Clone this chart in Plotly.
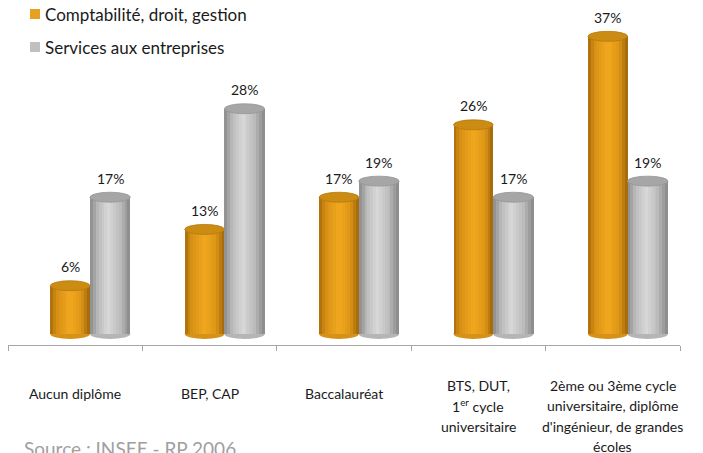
import plotly.graph_objects as go

# ---------------- data ----------------
categories = [
    "Aucun diplôme",
    "BEP, CAP",
    "Baccalauréat",
    "BTS, DUT,<br>1<sup>er</sup> cycle<br>universitaire",
    "2ème ou 3ème cycle<br>universitaire, diplôme<br>d'ingénieur, de grandes<br>écoles",
]
series_names = ["Comptabilité, droit, gestion", "Services aux entreprises"]
compta = [6, 13, 17, 26, 37]
services = [17, 28, 19, 17, 19]
value_labels_compta = ["6%", "13%", "17%", "26%", "37%"]
value_labels_services = ["17%", "28%", "19%", "17%", "19%"]
source_text = "Source : INSEE - RP 2006"

# ---------------- layout constants ----------------
OFF = 8  # page body margin offset
W, H = 703 - OFF, 453 - OFF
ML, MR, MT, MB = 0, 23, 13 - OFF, H - (345 - OFF)
PW, PH = W - ML - MR, H - MT - MB
FONT = "Lato"


def px_x(px):  # px in page coordinates
    return (px - OFF - ML) / PW


def px_y(py):
    return (H - MB - (py - OFF)) / PH


def hex2rgb(h):
    h = h.lstrip("#")
    return tuple(int(h[i:i + 2], 16) for i in (0, 2, 4))


def interp(stops, t):
    for (t0, c0), (t1, c1) in zip(stops, stops[1:]):
        if t0 <= t <= t1:
            a = (t - t0) / (t1 - t0) if t1 > t0 else 0
            r0, r1 = hex2rgb(c0), hex2rgb(c1)
            c = [round(r0[k] + (r1[k] - r0[k]) * a) for k in range(3)]
            return "rgb(%d,%d,%d)" % tuple(c)
    return stops[-1][1]


orange_stops = [(0, "#A86A0A"), (0.15, "#D48F14"), (0.5, "#F2A81E"), (0.78, "#DE9616"), (1.0, "#9C640A")]
gray_stops = [(0, "#8A8A8A"), (0.2, "#BBBBBB"), (0.45, "#D8D8D8"), (0.75, "#BBBBBB"), (1.0, "#868686")]

series = [
    dict(vals=compta, labels=value_labels_compta, x0=-0.185, x1=0.11, stops=orange_stops,
         top="#CC8C14", topline="#B47A0E", base="#D69218", legend="#E8A020"),
    dict(vals=services, labels=value_labels_services, x0=0.11, x1=0.41, stops=gray_stops,
         top="#A6A6A6", topline="#969696", base="#B5B5B5", legend="#C0C0C0"),
]

xs = list(range(len(categories)))
fig = go.Figure()
shapes = []
annotations = []
N = 14
half_h = 0.62  # ellipse half height in data units

for s in series:
    dw = (s["x1"] - s["x0"]) / N
    for i in range(N):
        t = (i + 0.5) / N
        fig.add_trace(go.Bar(
            x=xs, y=s["vals"], base=0, width=dw * 1.05, offset=s["x0"] + i * dw,
            marker=dict(color=interp(s["stops"], t), line=dict(width=0)),
            showlegend=False, hoverinfo="skip",
        ))
    for xi, v, lab in zip(xs, s["vals"], s["labels"]):
        shapes.append(dict(type="circle", xref="x", yref="y",
                           x0=xi + s["x0"], x1=xi + s["x1"], y0=v - half_h, y1=v + half_h,
                           fillcolor=s["top"], line=dict(color=s["topline"], width=0.8), layer="above"))
        shapes.append(dict(type="circle", xref="x", yref="y",
                           x0=xi + s["x0"], x1=xi + s["x1"], y0=-half_h, y1=half_h,
                           fillcolor=s["base"], line=dict(width=0), layer="below"))
        annotations.append(dict(x=xi + (s["x0"] + s["x1"]) / 2, y=v, xref="x", yref="y",
                                text=lab, showarrow=False, yshift=19,
                                font=dict(family=FONT, size=14, color="#1a1a1a")))

# category labels, one annotation per line
line_h = 20.5
for xi, cat in enumerate(categories):
    lines = cat.split("<br>")
    top = 393 if len(lines) == 1 else 385
    for j, ln in enumerate(lines):
        annotations.append(dict(x=xi, y=px_y(top + j * line_h), xref="x", yref="paper",
                                text=ln, showarrow=False, xanchor="center", yanchor="middle",
                                font=dict(family=FONT, size=14, color="#1a1a1a")))

# legend
for k, (name, s) in enumerate(zip(series_names, series)):
    cy = 14 + k * 33
    shapes.append(dict(type="rect", xref="paper", yref="paper",
                       x0=px_x(30), x1=px_x(40), y0=px_y(cy + 5), y1=px_y(cy - 5),
                       fillcolor=s["legend"], line=dict(width=0)))
    annotations.append(dict(x=px_x(43), y=px_y(cy), xref="paper", yref="paper",
                            text=name, showarrow=False, xanchor="left", yanchor="middle",
                            font=dict(family=FONT, size=17, color="#1a1a1a")))

# source
annotations.append(dict(x=px_x(22), y=px_y(448), xref="paper", yref="paper",
                        text=source_text, showarrow=False, xanchor="left", yanchor="middle",
                        font=dict(family=FONT, size=19, color="#A0A0A0")))

fig.update_layout(
    width=W, height=H,
    margin=dict(l=ML, r=MR, t=MT, b=MB),
    paper_bgcolor="white", plot_bgcolor="white",
    barmode="overlay", bargap=0,
    showlegend=False,
    shapes=shapes, annotations=annotations,
    xaxis=dict(range=[-0.5, len(categories) - 0.5], showgrid=False, zeroline=False,
               showline=True, linecolor="#A6A6A6", linewidth=1,
               tickmode="array", tickvals=[i - 0.5 for i in range(len(categories) + 1)],
               ticks="outside", ticklen=5, tickcolor="#A6A6A6", showticklabels=False),
    yaxis=dict(range=[-1.37, 39.9], visible=False),
)

fig.write_html("out.html")
